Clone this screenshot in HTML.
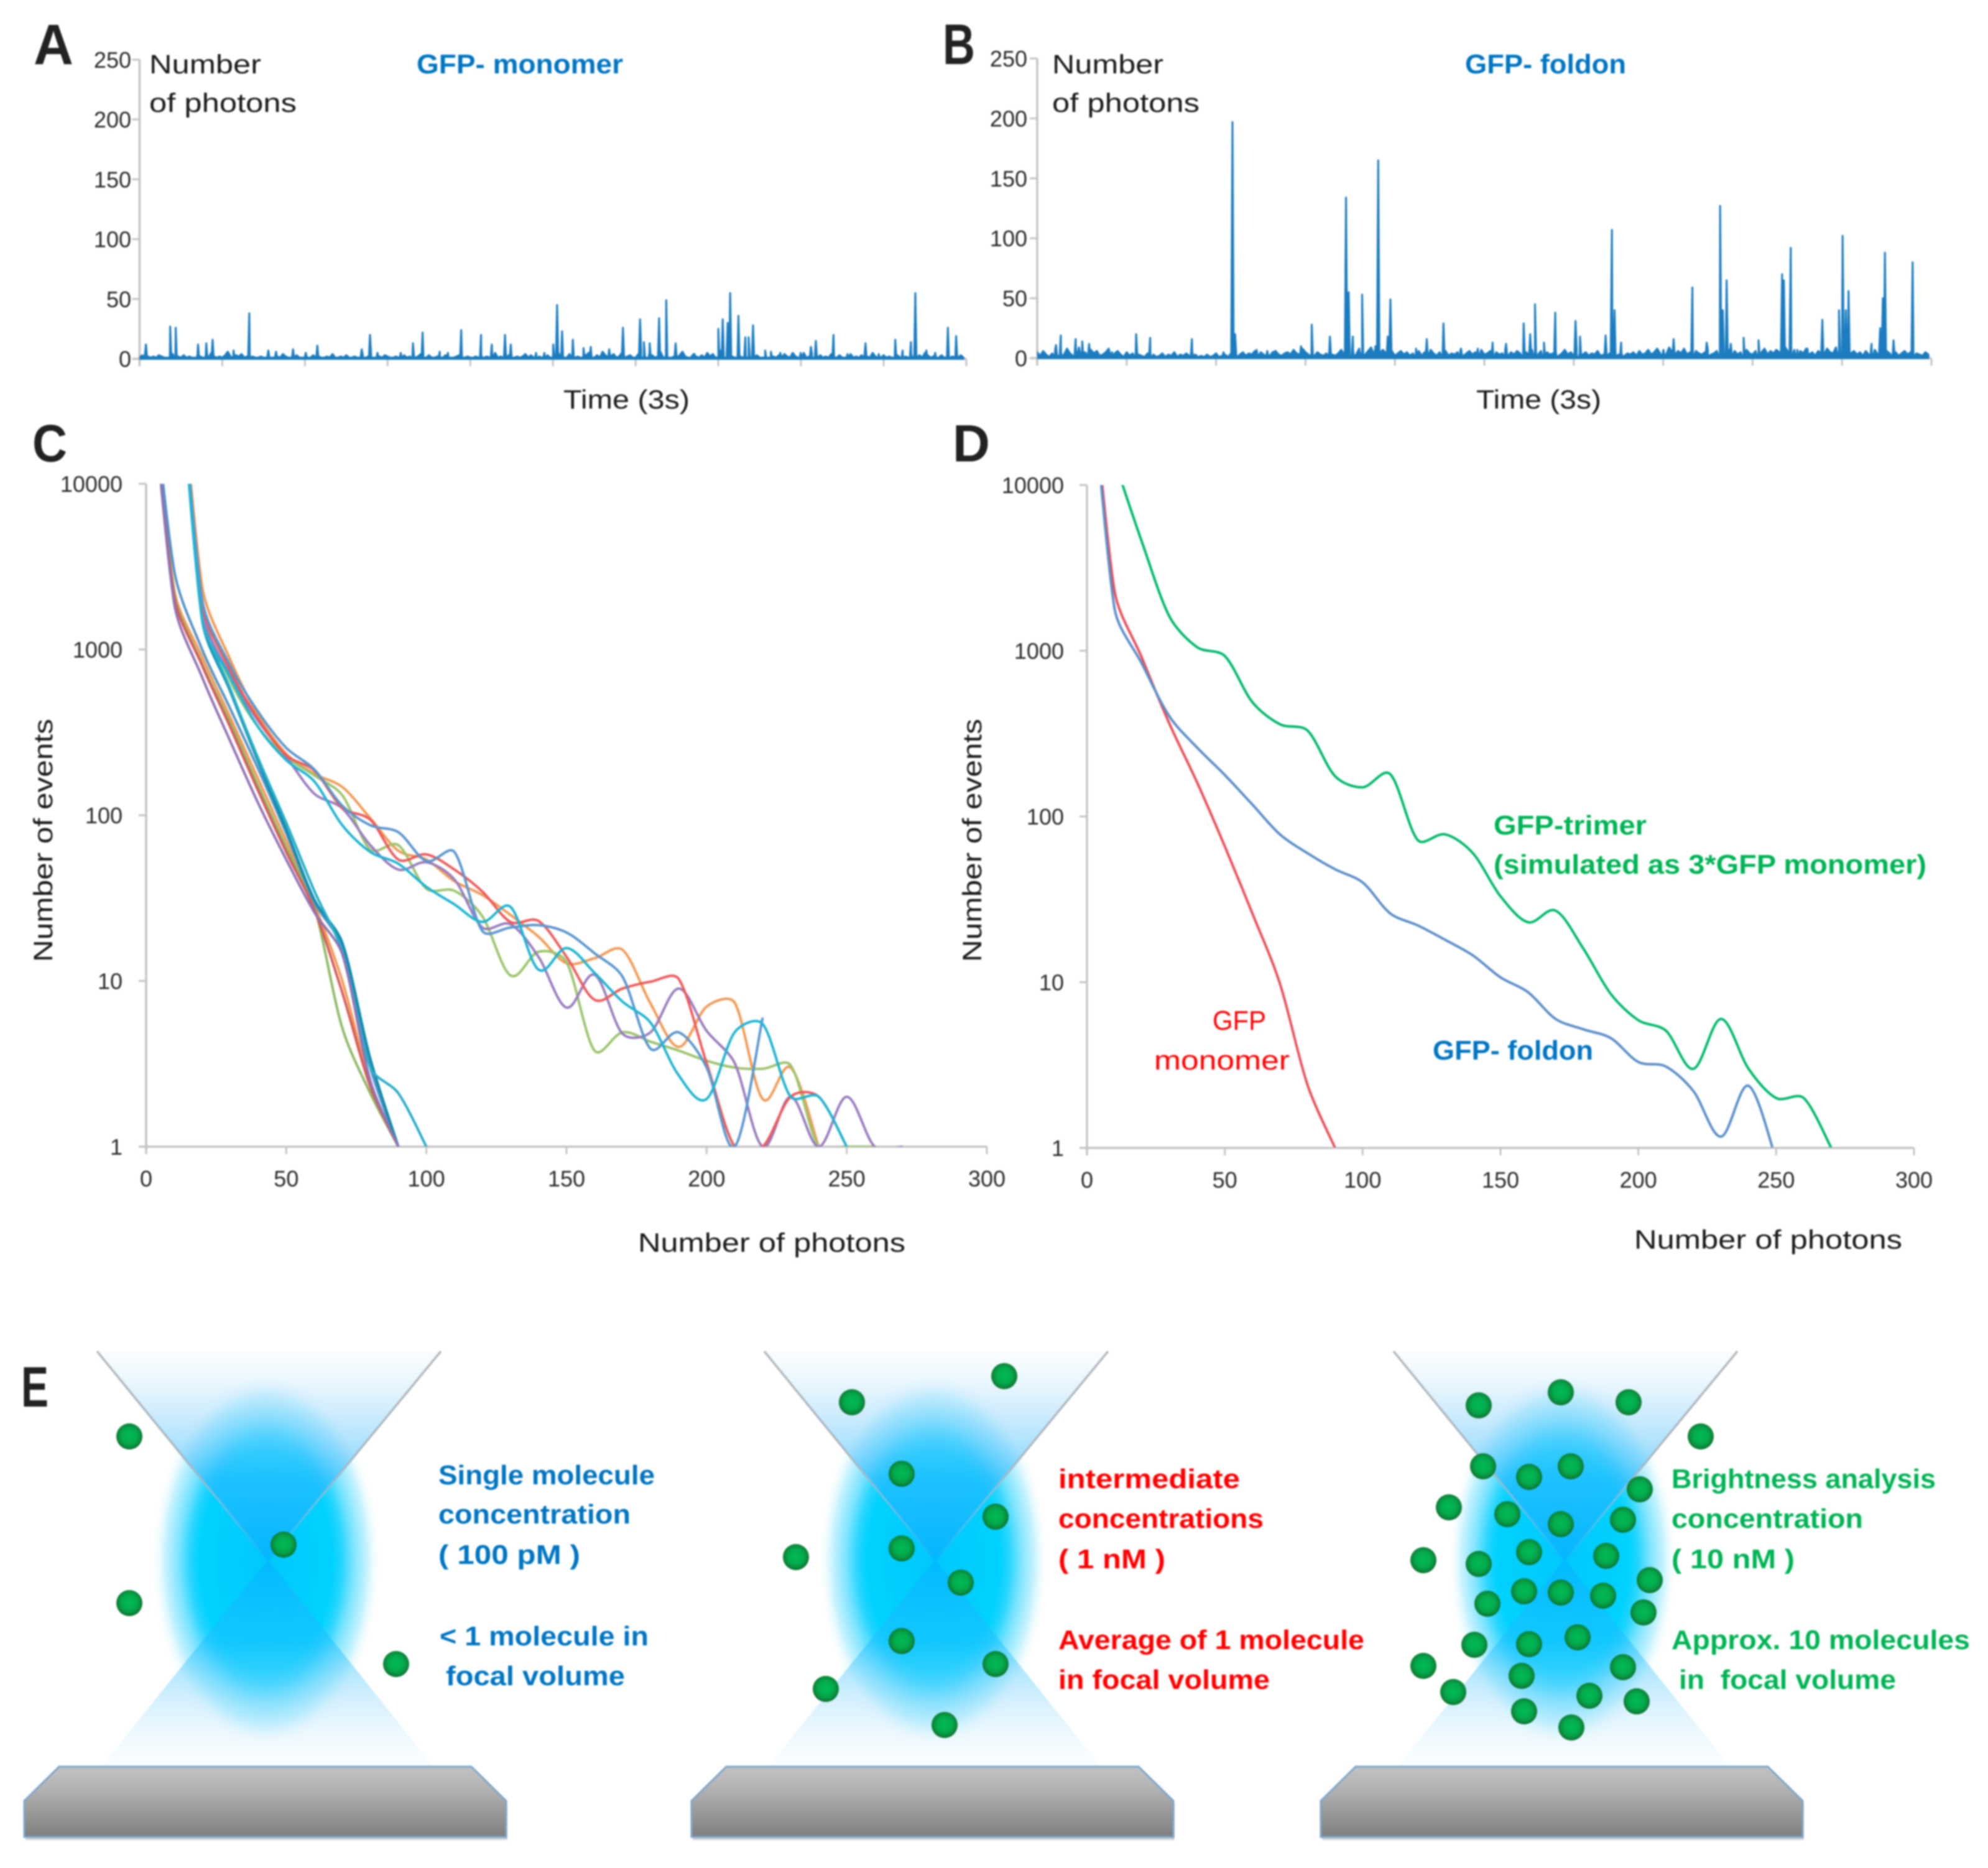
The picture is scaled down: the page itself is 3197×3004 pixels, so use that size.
<!DOCTYPE html>
<html lang="en">
<head>
<meta charset="utf-8">
<title>GFP photon burst analysis figure</title>
<style>
html,body{margin:0;padding:0;background:#fff;}
#figure{display:block;width:3197px;height:3004px;filter:blur(1.3px);font-family:"Liberation Sans",sans-serif;}
.t{font-size:43px;fill:#1a1a1a;}
.tick{font-size:36px;fill:#2a2a2a;}
.pl{font-size:92px;font-weight:bold;fill:#222;}
.b{font-size:44px;font-weight:bold;fill:#0075c2;}
.r{font-size:44px;font-weight:bold;fill:#ff0000;}
.g{font-size:44px;font-weight:bold;fill:#00b455;}
</style>
</head>
<body>
<svg id="figure" xmlns="http://www.w3.org/2000/svg" width="3197" height="3004" viewBox="0 0 3197 3004">
<defs>
<clipPath id="clipA"><rect x="224" y="60" width="1335" height="530"/></clipPath>
<clipPath id="clipB"><rect x="1668" y="60" width="1442" height="530"/></clipPath>
<clipPath id="clipC"><rect x="235" y="778" width="1352" height="1066"/></clipPath>
<clipPath id="clipD"><rect x="1748" y="780" width="1330" height="1065"/></clipPath>
<radialGradient id="glow" cx="50%" cy="50%" r="50%">
<stop offset="0" stop-color="#00c8fc"/>
<stop offset="0.58" stop-color="#00d2ff"/>
<stop offset="0.66" stop-color="#28d6ff"/>
<stop offset="0.76" stop-color="#7ee4ff"/>
<stop offset="0.88" stop-color="#c8f3ff"/>
<stop offset="1" stop-color="#ffffff" stop-opacity="0"/>
</radialGradient>
<linearGradient id="coneTop" x1="0" y1="0" x2="0" y2="1">
<stop offset="0" stop-color="#cfeafb" stop-opacity="0.1"/>
<stop offset="0.25" stop-color="#a6dcfa" stop-opacity="0.45"/>
<stop offset="0.6" stop-color="#30b8ff" stop-opacity="0.6"/>
<stop offset="1" stop-color="#00b4ff" stop-opacity="0.9"/>
</linearGradient>
<linearGradient id="coneBottom" x1="0" y1="0" x2="0" y2="1">
<stop offset="0" stop-color="#00b8ff" stop-opacity="0.9"/>
<stop offset="0.4" stop-color="#20c0ff" stop-opacity="0.55"/>
<stop offset="0.7" stop-color="#9cdcfb" stop-opacity="0.4"/>
<stop offset="1" stop-color="#e0f2fd" stop-opacity="0.15"/>
</linearGradient>
<linearGradient id="edgeL" gradientUnits="userSpaceOnUse" x1="156" y1="2173" x2="431" y2="2510">
<stop offset="0" stop-color="#b4b8bc"/><stop offset="0.55" stop-color="#a8b8c4"/><stop offset="1" stop-color="#8fc8e8" stop-opacity="0"/>
</linearGradient>
<linearGradient id="edgeR" gradientUnits="userSpaceOnUse" x1="709" y1="2173" x2="431" y2="2510">
<stop offset="0" stop-color="#b4b8bc"/><stop offset="0.55" stop-color="#a8b8c4"/><stop offset="1" stop-color="#8fc8e8" stop-opacity="0"/>
</linearGradient>
<linearGradient id="slabFill" x1="0" y1="0" x2="0" y2="1">
<stop offset="0" stop-color="#c2c2c2"/><stop offset="0.35" stop-color="#b0b0b0"/><stop offset="1" stop-color="#7e7e7e"/>
</linearGradient>
<radialGradient id="dot" cx="50%" cy="48%" r="52%">
<stop offset="0" stop-color="#00bb55"/>
<stop offset="0.55" stop-color="#03ab4e"/>
<stop offset="0.85" stop-color="#0a8a3a"/>
<stop offset="1" stop-color="#0c6a2c"/>
</radialGradient>
<g id="scene">
<ellipse cx="428" cy="2510" rx="185" ry="300" fill="url(#glow)"/>
<polygon points="156,2173 709,2173 431,2512" fill="url(#coneTop)"/>
<polygon points="431,2508 165,2838 695,2838" fill="url(#coneBottom)"/>
<line x1="156" y1="2173" x2="431" y2="2510" stroke="url(#edgeL)" stroke-width="3.5"/>
<line x1="709" y1="2173" x2="431" y2="2510" stroke="url(#edgeR)" stroke-width="3.5"/>
<polygon points="95,2841 758,2841 814,2896 814,2954 39,2954 39,2896" fill="#000" opacity="0.18" transform="translate(2,5)"/>
<polygon points="95,2841 758,2841 814,2896 814,2954 39,2954 39,2896" fill="url(#slabFill)" stroke="#7ea6cc" stroke-width="3"/>
</g>
</defs>

<rect x="0" y="0" width="3197" height="3004" fill="#ffffff"/>

<g id="schematics">
<use href="#scene"/>
<use href="#scene" x="1073"/>
<use href="#scene" x="2085"/>
<g fill="url(#dot)">
<circle cx="208" cy="2310" r="21"/>
<circle cx="456" cy="2484" r="21"/>
<circle cx="208" cy="2578" r="21"/>
<circle cx="637" cy="2676" r="21"/>
</g>
<g fill="url(#dot)">
<circle cx="1370" cy="2255" r="21"/>
<circle cx="1615" cy="2213" r="21"/>
<circle cx="1450" cy="2370" r="21"/>
<circle cx="1601" cy="2439" r="21"/>
<circle cx="1450" cy="2490" r="21"/>
<circle cx="1545" cy="2545" r="21"/>
<circle cx="1280" cy="2504" r="21"/>
<circle cx="1450" cy="2639" r="21"/>
<circle cx="1601" cy="2676" r="21"/>
<circle cx="1328" cy="2716" r="21"/>
<circle cx="1519" cy="2774" r="21"/>
</g>
<g fill="url(#dot)">
<circle cx="2378" cy="2260" r="21"/>
<circle cx="2510" cy="2239" r="21"/>
<circle cx="2619" cy="2255" r="21"/>
<circle cx="2735" cy="2310" r="21"/>
<circle cx="2385" cy="2358" r="21"/>
<circle cx="2459" cy="2375" r="21"/>
<circle cx="2526" cy="2358" r="21"/>
<circle cx="2637" cy="2395" r="21"/>
<circle cx="2330" cy="2424" r="21"/>
<circle cx="2424" cy="2435" r="21"/>
<circle cx="2510" cy="2451" r="21"/>
<circle cx="2610" cy="2444" r="21"/>
<circle cx="2459" cy="2496" r="21"/>
<circle cx="2583" cy="2502" r="21"/>
<circle cx="2289" cy="2509" r="21"/>
<circle cx="2378" cy="2515" r="21"/>
<circle cx="2653" cy="2541" r="21"/>
<circle cx="2451" cy="2559" r="21"/>
<circle cx="2510" cy="2561" r="21"/>
<circle cx="2578" cy="2566" r="21"/>
<circle cx="2392" cy="2579" r="21"/>
<circle cx="2643" cy="2593" r="21"/>
<circle cx="2537" cy="2633" r="21"/>
<circle cx="2371" cy="2645" r="21"/>
<circle cx="2459" cy="2644" r="21"/>
<circle cx="2289" cy="2679" r="21"/>
<circle cx="2447" cy="2695" r="21"/>
<circle cx="2610" cy="2681" r="21"/>
<circle cx="2337" cy="2721" r="21"/>
<circle cx="2556" cy="2727" r="21"/>
<circle cx="2632" cy="2736" r="21"/>
<circle cx="2451" cy="2752" r="21"/>
<circle cx="2527" cy="2778" r="21"/>
</g>
</g>

<g id="labels">
<text class="pl" x="54" y="103" textLength="64" lengthAdjust="spacingAndGlyphs">A</text>
<text class="pl" x="1516" y="103" textLength="52" lengthAdjust="spacingAndGlyphs">B</text>
<text class="pl" x="52" y="742" textLength="56" lengthAdjust="spacingAndGlyphs" style="font-size:84px">C</text>
<text class="pl" x="1532" y="742" textLength="60" lengthAdjust="spacingAndGlyphs" style="font-size:84px">D</text>
<text class="pl" x="34" y="2262" textLength="44" lengthAdjust="spacingAndGlyphs">E</text>

<text class="t" x="240" y="118" textLength="180" lengthAdjust="spacingAndGlyphs">Number</text>
<text class="t" x="240" y="180" textLength="237" lengthAdjust="spacingAndGlyphs">of photons</text>
<text class="b" x="670" y="118" textLength="332" lengthAdjust="spacingAndGlyphs">GFP- monomer</text>
<text class="t" x="906" y="657" textLength="203" lengthAdjust="spacingAndGlyphs">Time (3s)</text>

<text class="t" x="1692" y="118" textLength="179" lengthAdjust="spacingAndGlyphs">Number</text>
<text class="t" x="1692" y="180" textLength="237" lengthAdjust="spacingAndGlyphs">of photons</text>
<text class="b" x="2356" y="118" textLength="259" lengthAdjust="spacingAndGlyphs">GFP- foldon</text>
<text class="t" x="2374" y="657" textLength="201" lengthAdjust="spacingAndGlyphs">Time (3s)</text>

<text class="t" transform="translate(84,1547) rotate(-90)" textLength="391" lengthAdjust="spacingAndGlyphs">Number of events</text>
<text class="t" x="1026" y="2013" textLength="430" lengthAdjust="spacingAndGlyphs">Number of photons</text>
<text class="t" transform="translate(1578,1547) rotate(-90)" textLength="391" lengthAdjust="spacingAndGlyphs">Number of events</text>
<text class="t" x="2628" y="2008" textLength="431" lengthAdjust="spacingAndGlyphs">Number of photons</text>

<text class="r" style="font-weight:normal" x="1950" y="1656" textLength="86" lengthAdjust="spacingAndGlyphs">GFP</text>
<text class="r" style="font-weight:normal" x="1856" y="1720" textLength="218" lengthAdjust="spacingAndGlyphs">monomer</text>
<text class="b" x="2304" y="1704" textLength="258" lengthAdjust="spacingAndGlyphs">GFP- foldon</text>
<text class="g" x="2402" y="1342" textLength="246" lengthAdjust="spacingAndGlyphs">GFP-trimer</text>
<text class="g" x="2402" y="1405" textLength="696" lengthAdjust="spacingAndGlyphs">(simulated as 3*GFP monomer)</text>

<text class="b" x="705" y="2387" textLength="348" lengthAdjust="spacingAndGlyphs">Single molecule</text>
<text class="b" x="705" y="2450" textLength="309" lengthAdjust="spacingAndGlyphs">concentration</text>
<text class="b" x="705" y="2515" textLength="228" lengthAdjust="spacingAndGlyphs">( 100 pM )</text>
<text class="b" x="707" y="2646" textLength="336" lengthAdjust="spacingAndGlyphs">&lt; 1 molecule in</text>
<text class="b" x="717" y="2710" textLength="288" lengthAdjust="spacingAndGlyphs">focal volume</text>

<text class="r" x="1702" y="2393" textLength="292" lengthAdjust="spacingAndGlyphs">intermediate</text>
<text class="r" x="1702" y="2457" textLength="330" lengthAdjust="spacingAndGlyphs">concentrations</text>
<text class="r" x="1702" y="2522" textLength="172" lengthAdjust="spacingAndGlyphs">( 1 nM )</text>
<text class="r" x="1702" y="2652" textLength="492" lengthAdjust="spacingAndGlyphs">Average of 1 molecule</text>
<text class="r" x="1702" y="2716" textLength="340" lengthAdjust="spacingAndGlyphs">in focal volume</text>

<text class="g" x="2688" y="2393" textLength="425" lengthAdjust="spacingAndGlyphs">Brightness analysis</text>
<text class="g" x="2688" y="2457" textLength="308" lengthAdjust="spacingAndGlyphs">concentration</text>
<text class="g" x="2688" y="2522" textLength="198" lengthAdjust="spacingAndGlyphs">( 10 nM )</text>
<text class="g" x="2688" y="2652" textLength="480" lengthAdjust="spacingAndGlyphs">Approx. 10 molecules</text>
<text class="g" x="2700" y="2716" textLength="349" lengthAdjust="spacingAndGlyphs">in&#160;&#160;focal volume</text>
</g>

<g id="charts"></g>
</svg>

<script>
// ---- Panel A / B data ----
var photonTicks = [0, 50, 100, 150, 200, 250];
var timeTickCount = 10;
var noiseStepA = 10;
var noiseA = [1,3,5,2,1,2,1,3,2,1,1,2,4,1,2,1,3,1,2,1,1,4,2,1,3,1,5,2,1,2,1,3,6,2,1,3,2,4,1,2,
1,2,1,1,2,1,1,3,1,1,2,1,4,2,1,1,2,3,1,1,2,1,1,3,1,2,1,1,2,1,4,1,1,2,1,3,1,1,2,1,
1,3,1,2,4,1,1,2,1,3,2,1,1,2,1,1,3,1,2,1,1,2,4,1,1,3,1,1,2,1,1,3,2,1,1,2,3,1,1,2,
1,1,2,1,3,1,2,1,1,5,1,2,1,1,3,1,1,2,1,2,4,1,3,1,1,2,1,1,3,1,2,1,5,2,1,1,4,3,1,2,
1,1,3,5,2,1,3,1,6,3,1,2,4,1,2,5,1,2,3,1,1,4,7,2,1,5,3,1,2,6,1,3,1,1,2,1,3,6,2,1,
1,4,2,1,3,1,5,2,4,1,2,7,3,1,6,2,1,4,2,1,1,2,1,1,3,1,1,2,1,1,2,1,3,1,4,2,1,5,2,1,
3,5,1,2,4,1,1,3,1,2,1,4,2,1,3,1,1,2,4,1,2,1,3,1,2,1,5,2,1,1,3,1,2,1,1,3,1,1,2,1,
4,2,1,3,1,5,3,1,2,1,1,3,1,4,1,2,1,1,3,1];
var spikeTimesA = [23,111,131,212,242,265,341,398,467,495,557,603,645,806,836,863,948,992,1027,1089,1119,1167,1239,1278,1326,1347,1439,1469,1501,1515,1533,1572,1611,1637,1704,1754,1816,1830,1851,1885,1911,1945,2014,2100,2116,2134,2143,2173,2198,2210,2226,2270,2291,2325,2399,2436,2454,2518,2569,2634,2682,2742,2769,2799,2815,2855,2887,2933,2963];
var spikeValuesA = [12,27,26,12,13,16,7,38,7,6,8,5,11,8,20,5,5,13,22,6,5,24,20,12,20,12,5,5,12,45,23,16,9,10,8,26,33,14,13,34,49,13,4,25,33,30,55,36,18,18,28,7,6,5,5,10,15,20,4,13,4,16,7,14,55,7,5,26,19];

var noiseStepB = 10;
var noiseB = [5,2,6,3,1,4,7,2,5,3,8,4,2,6,9,3,5,2,7,4,6,2,3,5,8,2,4,6,3,1,5,2,4,1,3,2,1,4,2,3,
1,2,4,1,3,2,5,1,3,2,4,2,6,3,1,2,1,3,1,2,4,1,2,3,1,4,2,1,3,5,2,4,3,6,2,5,3,4,2,5,
6,3,2,4,5,3,7,4,3,8,5,3,4,2,5,3,2,4,6,3,2,4,7,3,5,2,6,3,8,4,3,6,9,3,2,5,7,4,3,6,
2,4,6,3,5,2,4,3,6,2,5,3,7,4,2,5,3,6,2,4,3,5,7,2,4,6,3,5,2,7,3,4,6,2,5,3,4,7,2,5,
3,6,4,2,5,3,7,4,3,6,2,5,3,4,6,2,4,7,3,5,2,6,4,3,5,2,4,3,6,2,3,5,4,2,6,3,5,2,4,3,
5,2,6,3,4,7,3,5,8,4,6,3,9,5,3,6,4,8,3,5,2,6,4,3,5,7,3,4,6,2,5,3,7,4,6,3,5,2,7,4,
3,6,4,5,8,3,6,4,7,5,3,9,5,4,7,3,6,4,8,3,5,2,6,4,3,8,5,4,9,6,3,7,5,4,6,3,5,2,6,3,
4,7,3,5,2,6,4,3,5,2,4,6,3,5,2,4,3,2,5,3];
var spikeTimesB = [63,79,129,151,174,251,332,379,519,625,655,664,736,772,885,921,982,1036,1045,1059,1090,1135,1144,1176,1185,1271,1307,1363,1422,1478,1528,1573,1632,1654,1670,1700,1738,1806,1821,1907,1928,1937,1959,2101,2135,2198,2246,2291,2300,2313,2327,2370,2420,2499,2505,2528,2550,2584,2634,2690,2702,2713,2722,2799,2828,2837,2844,2873,2937];
var spikeValuesB = [11,19,16,14,12,5,20,17,16,5,197,20,7,6,10,28,18,134,55,18,53,10,165,18,49,8,16,29,8,8,13,12,29,20,45,13,38,31,18,19,107,40,13,7,16,59,13,127,40,65,12,17,15,70,65,92,7,8,32,40,102,40,56,12,25,50,88,15,80];

// ---- Panel C data (counts at each 10-photon bin) ----
var photonBins = [0,10,20,30,40,50,60,70,80,90,100,110,120,130,140,150,160,170,180,190,200,210,220,230,240,250,260,270];
var xTickLabels = [0,50,100,150,200,250,300];
var eventTicks = [1,10,100,1000,10000];

var monomerPurple = [100000,1900,680,280,118,54,26,14.5,2.5,1];
var monomerRed    = [100000,2100,800,340,140,60,27,8.5,2.3,1];
var monomerGreen  = [100000,2200,820,360,150,64,28,5.2,2.1,1];
var monomerOrange = [100000,2300,900,390,165,70,29,10,2.4,1];
var monomerBlue   = [100000,3000,1000,440,190,78,30,16,3,1];
var monomerDarkTeal = [null,150000,1500,560,210,82,31,17,3.4,1];
var monomerCyan   = [null,150000,1600,580,220,90,35,15,3,2.1,1];

var foldonBlue   = [null,150000,2000,800,420,255,189,114,87,79,53,60,20,21,21.7,19.6,14.7,10.6,3.9,4.9,3,1,6];
var foldonGreen  = [null,150000,1800,650,340,225,174,132,62,66,36,35,24.5,10.8,15,13,3.8,4.9,4.3,3.8,3.3,3,2.95,3.1,1,1,1];
var foldonPurple = [null,150000,1700,700,370,225,135,110,66,47,52,41,21,22,14,6.9,10.9,4.8,4.9,9,5,3.2,1,2,1,2,1,1];
var foldonOrange = [null,150000,2400,870,400,235,178,148,96,61,54,40,33,25,18.5,12.8,13.7,15.4,7.3,4,7,7.4,1.94,3,1];
var foldonRed    = [null,150000,1900,750,380,230,186,111,94,54,58,47,34.6,22.7,23,14,7.7,9,9.9,10.3,3.2,1,1,2,2,1];
var foldonCyan   = [null,150000,1500,680,340,215,160,87,60,51,37,29,22.7,28,11.7,15.8,11.2,7.5,5.6,2.7,1.94,4.9,5.5,2,2,1];

// ---- Panel D data ----
var averageMonomer = [100000,2300,900,360,160,66,26,9.8,2.4,1];
var averageFoldon  = [100000,1800,830,400,260,178,118,78,60,48,40,26,22,18,14.5,10.7,8.7,6,5.2,4.6,3.3,3.1,2.2,1.17,2.37,0.85];
var simulatedTrimer = [null,14000,4500,1600,1050,930,490,360,330,175,150,180,72,78,60,33,23,27,16,8.5,5.9,5.1,3,6,3,2,2,1];

var NS = 'http://www.w3.org/2000/svg';
var root = document.getElementById('charts');

function add(parent, tag, attrs) {
  var el = document.createElementNS(NS, tag);
  for (var k in attrs) el.setAttribute(k, attrs[k]);
  parent.appendChild(el);
  return el;
}
function linearScale(d0, d1, r0, r1) { return function (v) { return r0 + (v - d0) / (d1 - d0) * (r1 - r0); }; }
function logScale(d0, d1, r0, r1) {
  return function (v) { return r0 + (Math.log(v) - Math.log(d0)) / (Math.log(d1) - Math.log(d0)) * (r1 - r0); };
}
function axisLines(group, x0, x1, y0, y1) {
  var lineY = add(group, 'line', {x1: x0, x2: x0, y1: y0, y2: y1 + 12, stroke: '#c4c4c4', 'stroke-width': 3.5});
  
  
  var lineX = add(group, 'line', {x1: x0 - 12, x2: x1, y1: y1, y2: y1, stroke: '#c4c4c4', 'stroke-width': 3.5});
  
  
}
function yTick(group, x0, y, label, lx) {
  var tk = add(group, 'line', {x1: x0 - 12, x2: x0, y1: y, y2: y, stroke: '#c4c4c4', 'stroke-width': 3});
  
  
  var tx = add(group, 'text', {x: lx, y: y + 13, 'text-anchor': 'end', 'class': 'tick'});
  
  
  tx.textContent = label;
}
function xTick(group, x, y1, label, ly) {
  var tk = add(group, 'line', {x1: x, x2: x, y1: y1, y2: y1 + 12, stroke: '#c4c4c4', 'stroke-width': 3});
  
  
  if (label === null) return;
  var tx = add(group, 'text', {x: x, y: ly, 'text-anchor': 'middle', 'class': 'tick'});
  
  
  tx.textContent = label;
}

function drawTrace(cfg, noise, noiseStep, spikeTimes, spikeValues, halfWidth, name) {
  var g = add(root, 'g', {});
  
  
  var sx = linearScale(0, 3000, cfg.x0, cfg.x1);
  var sy = linearScale(0, 250, cfg.y0, cfg.y1);
  axisLines(g, cfg.x0, cfg.x1, cfg.y1, cfg.y0);
  photonTicks.forEach(function (v) { yTick(g, cfg.x0, sy(v), String(v), cfg.lx); });
  for (var i = 0; i <= timeTickCount; i++) xTick(g, sx(i * 3000 / timeTickCount), cfg.y0, null, 0);
  var pts = [];
  noise.forEach(function (v, i) { pts.push([i * noiseStep, v]); });
  spikeTimes.forEach(function (t, i) {
    pts.push([t - halfWidth, 1]);
    pts.push([t, spikeValues[i]]);
    pts.push([t + halfWidth, 1]);
  });
  pts.sort(function (a, b) { return a[0] - b[0]; });
  var d = pts.map(function (p, i) { return (i ? 'L' : 'M') + sx(p[0]).toFixed(1) + ' ' + sy(p[1]).toFixed(1); }).join('');
  d += 'L' + sx(pts[pts.length - 1][0]).toFixed(1) + ' ' + sy(0).toFixed(1) + 'L' + sx(pts[0][0]).toFixed(1) + ' ' + sy(0).toFixed(1) + 'Z';
  var path = add(g, 'path', {d: d, fill: '#1b7cc0', stroke: '#1b7cc0', 'stroke-width': cfg.sw, 'stroke-linejoin': 'round', 'clip-path': 'url(#' + cfg.clip + ')'});
  
  
}

function smoothPath(values, sx, sy) {
  var p = [];
  values.forEach(function (v, i) { if (v !== null && v !== undefined) p.push([sx(photonBins[i]), sy(v)]); });
  function control(a, c, seg) {
    var dx = c[0] - a[0], dy = c[1] - a[1], n = Math.sqrt(dx * dx + dy * dy) || 1;
    var m = Math.min(n / 6, seg / 3);
    return [dx / n * m, dy / n * m];
  }
  var d = 'M' + p[0][0].toFixed(1) + ' ' + p[0][1].toFixed(1);
  for (var i = 0; i < p.length - 1; i++) {
    var a = p[Math.max(i - 1, 0)], b = p[i], c = p[i + 1], e = p[Math.min(i + 2, p.length - 1)];
    var seg = Math.sqrt(Math.pow(c[0] - b[0], 2) + Math.pow(c[1] - b[1], 2));
    var t1 = control(a, c, seg), t2 = control(b, e, seg);
    d += 'C' + (b[0] + t1[0]).toFixed(1) + ' ' + (b[1] + t1[1]).toFixed(1) + ' ' +
      (c[0] - t2[0]).toFixed(1) + ' ' + (c[1] - t2[1]).toFixed(1) + ' ' +
      c[0].toFixed(1) + ' ' + c[1].toFixed(1);
  }
  return d;
}

function drawHistogram(cfg, list) {
  var g = add(root, 'g', {});
  
  
  var sx = linearScale(0, 300, cfg.x0, cfg.x1);
  var sy = logScale(1, 10000, cfg.y0, cfg.y1);
  axisLines(g, cfg.x0, cfg.x1, cfg.y1, cfg.y0);
  eventTicks.forEach(function (v) { yTick(g, cfg.x0, sy(v), String(v), cfg.lx); });
  xTickLabels.forEach(function (v) { xTick(g, sx(v), cfg.y0, String(v), cfg.y0 + 64); });
  list.forEach(function (s) {
    var path = add(g, 'path', {d: smoothPath(s.values, sx, sy), fill: 'none', stroke: s.color, 'stroke-width': cfg.sw, 'clip-path': 'url(#' + cfg.clip + ')'});
    
    
  });
}

drawTrace({name: 'chart-a-gfp-monomer-trace', x0: 224.5, x1: 1554, y0: 577, y1: 96, lx: 211, clip: 'clipA', sw: 3}, noiseA, noiseStepA, spikeTimesA, spikeValuesA, 4, 'trace-monomer');
drawTrace({name: 'chart-b-gfp-foldon-trace', x0: 1668, x1: 3106, y0: 576, y1: 94, lx: 1652, clip: 'clipB', sw: 3}, noiseB, noiseStepB, spikeTimesB, spikeValuesB, 4, 'trace-foldon');

drawHistogram({name: 'chart-c-individual-histograms', x0: 235, x1: 1587, y0: 1844, y1: 778, lx: 197, clip: 'clipC', sw: 4}, [
  {name: 'monomer-run-orange', color: '#f29a55', values: monomerOrange},
  {name: 'monomer-run-green', color: '#8fb964', values: monomerGreen},
  {name: 'monomer-run-red', color: '#d65a5a', values: monomerRed},
  {name: 'monomer-run-blue', color: '#5292c8', values: monomerBlue},
  {name: 'monomer-run-dark-teal', color: '#0f8cac', values: monomerDarkTeal},
  {name: 'monomer-run-cyan', color: '#27aec8', values: monomerCyan},
  {name: 'monomer-run-purple', color: '#9173b5', values: monomerPurple},
  {name: 'foldon-run-orange', color: '#f29a55', values: foldonOrange},
  {name: 'foldon-run-green', color: '#9cc46c', values: foldonGreen},
  {name: 'foldon-run-purple', color: '#9a7dbf', values: foldonPurple},
  {name: 'foldon-run-red', color: '#ee5a5a', values: foldonRed},
  {name: 'foldon-run-blue', color: '#5a97cf', values: foldonBlue},
  {name: 'foldon-run-cyan', color: '#1fb5d2', values: foldonCyan}
]);

drawHistogram({name: 'chart-d-average-histograms', x0: 1748, x1: 3078, y0: 1846, y1: 780, lx: 1711, clip: 'clipD', sw: 4}, [
  {name: 'line-gfp-monomer', color: '#e8505a', values: averageMonomer},
  {name: 'line-gfp-foldon', color: '#5b8fc9', values: averageFoldon},
  {name: 'line-gfp-trimer-simulated', color: '#00b96b', values: simulatedTrimer}
]);
</script>
</body>
</html>
